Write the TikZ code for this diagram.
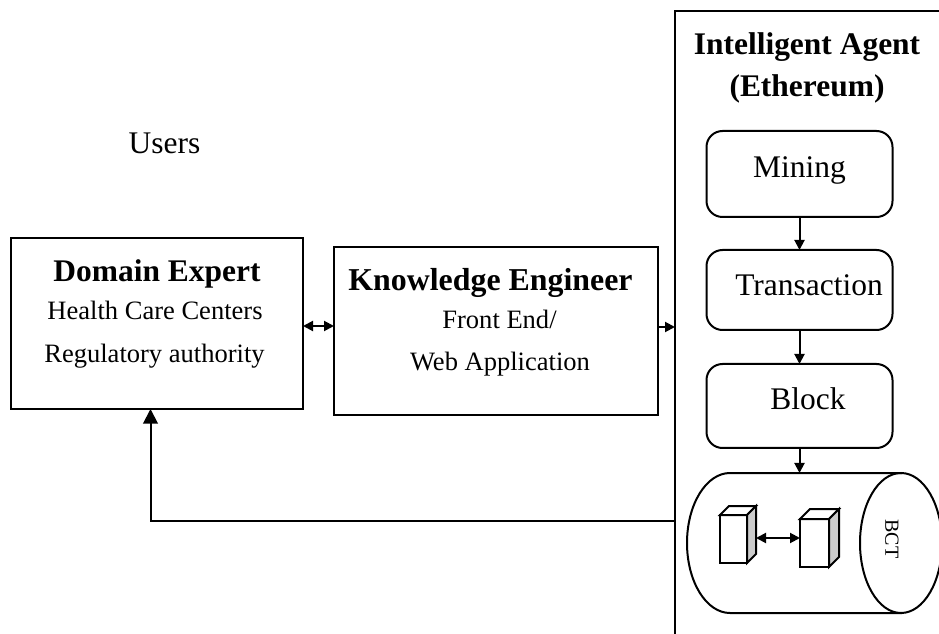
\documentclass[tikz,border=0pt]{standalone}
\usepackage{fontspec}
\setmainfont{Liberation Serif}
\usetikzlibrary{arrows.meta,calc}
\newcommand{\fsA}{\fontsize{23.6pt}{28pt}\selectfont}
\newcommand{\fsK}{\fontsize{23.9pt}{28pt}\selectfont}
\newcommand{\fsB}{\fontsize{19.9pt}{24pt}\selectfont}
\newcommand{\fsC}{\fontsize{15pt}{18pt}\selectfont}
\tikzset{
  box/.style={draw=black,rectangle,inner sep=0pt,outer sep=0pt},
  step box/.style={box,rounded corners=12pt,minimum width=139.5pt},
  big/.style={font=\fsA,anchor=base,inner sep=0pt},
  small/.style={font=\fsB,anchor=base,inner sep=0pt},
  arr/.style={-{Triangle[length=7.5pt,width=7.5pt]}},
  darr/.style={{Triangle[length=7.5pt,width=7.5pt]}-{Triangle[length=7.5pt,width=7.5pt]}},
  bigarr/.style={-{Triangle[length=11pt,width=11pt]}},
}
\begin{document}
\begin{tikzpicture}[x=0.75pt,y=-0.75pt,line width=1.5pt]
\useasboundingbox (0,0) rectangle (939,634);
\clip (0,0) rectangle (939,634);
% main boxes
\node[box,minimum width=219pt,minimum height=128.25pt] (dom) at (157,323.5) {};
\node[box,minimum width=243pt,minimum height=126pt] (know) at (496,331) {};
\node[box,minimum width=240pt,minimum height=490pt] (agent) at (835,338) {};
% steps
\node[step box,minimum height=64.5pt] (mining) at (799.5,174) {};
\node[step box,minimum height=60pt] (trans) at (799.5,290) {};
\node[step box,minimum height=63pt] (block) at (799.5,406) {};
% texts
\node[big] (users) at (164.5,154) {Users};
\node[big] (dt) at (157,282) {\textbf{Domain Expert}};
\node[small] (d1) at (155,320) {Health Care Centers};
\node[small] (d2) at (154.5,362.5) {Regulatory authority};
\node[big,font=\fsK] (kt) at (490.5,290.5) {\textbf{Knowledge Engineer}};
\node[small] (k1) at (499.5,329) {Front End/};
\node[small] (k2) at (500,371) {Web Application};
\node[big] (a1) at (807,55) {\textbf{Intelligent Agent}};
\node[big] (a2) at (807,97) {\textbf{(Ethereum)}};
\node[big] (mt) at (799.5,177.5) {Mining};
\node[big] (tt) at (809,295.5) {Transaction};
\node[big] (bt) at (808,409.5) {Block};
% cylinder
\coordinate (cylT) at (800,473);
\draw (902,473) -- (730,473) arc[start angle=270,end angle=90,x radius=43,y radius=70] -- (902,613);
\draw (901,543) ellipse[x radius=41,y radius=70];
\node[font=\fsC,rotate=-90,inner sep=0pt] (bct) at (892,539) {BCT};
% cubes
\draw[fill=white] (720,515) rectangle (747,563);
\draw[fill=white] (720,515) -- (729,506) -- (756,506) -- (747,515) -- cycle;
\draw[fill=black!20] (747,515) -- (756,506) -- (756,554) -- (747,563) -- cycle;
\draw[fill=white] (800,519) rectangle (829,567);
\draw[fill=white] (800,519) -- (810,509) -- (839,509) -- (829,519) -- cycle;
\draw[fill=black!20] (829,519) -- (839,509) -- (839,557) -- (829,567) -- cycle;
\coordinate (cubeA) at (756,538);
\coordinate (cubeB) at (800,538);
\draw[darr] (cubeA) -- (cubeB);
% connectors
\coordinate (h1) at (0,326);
\coordinate (h2) at (0,327);
\draw[darr] (h1-|dom.east) -- (h1-|know.west);
\draw[arr] (h2-|know.east) -- (h2-|agent.west);
\draw[arr] (mining.south) -- (trans.north);
\draw[arr] (trans.south) -- (block.north);
\draw[arr] (block.south) -- (block.south|-cylT);
\coordinate (fb) at (150.5,521);
\draw[bigarr] (fb-|agent.west) -- (fb) -- (fb|-dom.south);
\end{tikzpicture}
\end{document}
